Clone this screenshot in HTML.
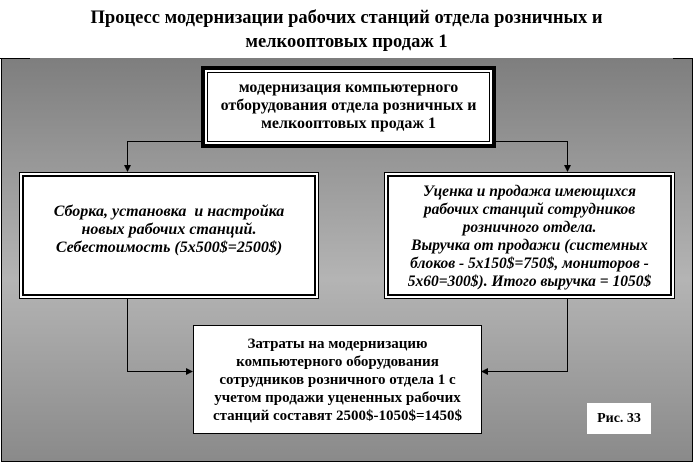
<!DOCTYPE html>
<html><head><meta charset="utf-8"><style>
body{margin:0;width:693px;height:463px;background:#fff;position:relative;overflow:hidden;font-family:"Liberation Serif","Noto Serif CJK SC",serif;}
.t{position:absolute;left:0;width:693px;text-align:center;font-weight:bold;font-size:18.5px;line-height:24px;top:6px;}
.bg{position:absolute;left:1px;top:58px;width:690px;height:403px;border:1px solid #000;border-top:none;background:linear-gradient(#7e7e7e 0%,#b4b4b4 55%,#8a8a8a 100%);}
.box{position:absolute;background:#fff;text-align:center;font-weight:bold;font-size:16px;line-height:18px;display:flex;align-items:center;justify-content:center;box-sizing:border-box;white-space:nowrap}
svg{position:absolute;left:0;top:0}
</style></head><body>
<div class="t">Процесс модернизации рабочих станций отдела розничных и<br>мелкооптовых продаж 1</div>
<div class="bg"></div>
<svg width="693" height="463">
<line x1="0" y1="58.5" x2="30" y2="58.5" stroke="#000"/>
<line x1="673" y1="58.5" x2="693" y2="58.5" stroke="#000"/>
<g stroke="#000" fill="none" stroke-width="1">
<polyline points="202,141.5 127.5,141.5 127.5,168"/>
<polyline points="495,141.5 567.5,141.5 567.5,168"/>
<polyline points="127.5,298 127.5,371.5 188,371.5"/>
<polyline points="567.5,298 567.5,371.5 486,371.5"/>
</g>
<g fill="#000">
<polygon points="124,165 131,165 127.5,172"/>
<polygon points="564,165 571,165 567.5,172"/>
<polygon points="186,368 186,375 193,371.5"/>
<polygon points="488,368 488,375 481,371.5"/>
</g>
</svg>
<div class="box" style="left:201px;top:66px;width:295px;height:82px;border:4px solid #000;">
<div style="position:absolute;left:2px;top:2px;right:2px;bottom:2px;border:1px solid #000"></div>
<span style="position:relative;margin-top:-3px">модернизация компьютерного<br>отборудования отдела розничных и<br>мелкооптовых продаж 1</span></div>
<div class="box" style="left:19px;top:172px;width:300px;height:127px;border:1px solid #000;">
<div style="position:absolute;left:2px;top:2px;right:2px;bottom:2px;border:2px solid #000"></div>
<span style="position:relative;font-style:italic;margin-top:-12px">Сборка, установка&nbsp; и настройка<br>новых рабочих станций.<br>Себестоимость (5х500$=2500$)</span></div>
<div class="box" style="left:384px;top:172px;width:291px;height:127px;border:1px solid #000;">
<div style="position:absolute;left:2px;top:2px;right:2px;bottom:2px;border:2px solid #000"></div>
<span style="position:relative;font-style:italic;font-size:15.5px;margin-top:3px">Уценка и продажа имеющихся<br>рабочих станций сотрудников<br>розничного отдела.<br>Выручка от продажи (системных<br>блоков - 5х150$=750$, мониторов -<br>5х60=300$). Итого выручка = 1050$</span></div>
<div class="box" style="left:193px;top:325px;width:289px;height:109px;border:1px solid #000;font-size:15px">Затраты на модернизацию<br>компьютерного оборудования<br>сотрудников розничного отдела 1 с<br>учетом продажи уцененных рабочих<br>станций составят 2500$-1050$=1450$</div>
<div class="box" style="left:587px;top:403px;width:64px;height:31px;font-size:14px">Рис. 33</div>
</body></html>
